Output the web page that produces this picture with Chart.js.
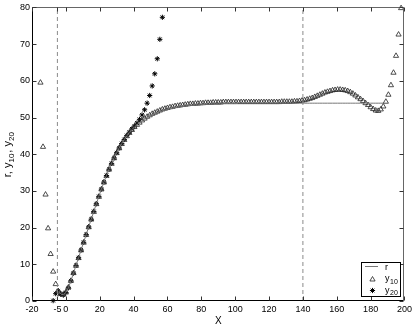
<!DOCTYPE html>
<html>
<head>
<meta charset="utf-8">
<script src="https://cdn.jsdelivr.net/npm/chart.js@4.4.1/dist/chart.umd.min.js"></script>
<style>
  html, body { margin: 0; padding: 0; background: #fff; }
  canvas { display: block; }
</style>
</head>
<body>
<canvas id="chart" width="415" height="326"></canvas>
<script>
// =====================
// Data
// =====================
const xs = [
    -15, -13.5, -12, -10.5, -9, -7.5, -6, -4.5, -3, -1.5,
    0, 1.5, 3, 4.5, 6, 7.5, 9, 10.5, 12, 13.5,
    15, 16.5, 18, 19.5, 21, 22.5, 24, 25.5, 27, 28.5,
    30, 31.5, 33, 34.5, 36, 37.5, 39, 40.5, 42, 43.5,
    45, 46.5, 48, 49.5, 51, 52.5, 54, 55.5, 57, 58.5,
    60, 61.5, 63, 64.5, 66, 67.5, 69, 70.5, 72, 73.5,
    75, 76.5, 78, 79.5, 81, 82.5, 84, 85.5, 87, 88.5,
    90, 91.5, 93, 94.5, 96, 97.5, 99, 100.5, 102, 103.5,
    105, 106.5, 108, 109.5, 111, 112.5, 114, 115.5, 117, 118.5,
    120, 121.5, 123, 124.5, 126, 127.5, 129, 130.5, 132, 133.5,
    135, 136.5, 138, 139.5, 141, 142.5, 144, 145.5, 147, 148.5,
    150, 151.5, 153, 154.5, 156, 157.5, 159, 160.5, 162, 163.5,
    165, 166.5, 168, 169.5, 171, 172.5, 174, 175.5, 177, 178.5,
    180, 181.5, 183, 184.5, 186, 187.5, 189, 190.5, 192, 193.5,
    195, 196.5, 198
];

// reference curve r
const rVals = [
    null, null, null, null, null, null, null, 2.6, 1.9, 1.7,
    2.3, 3.6, 5.5, 7.6, 9.7, 11.8, 13.9, 16.0, 18.1, 20.2,
    22.3, 24.4, 26.5, 28.5, 30.5, 32.4, 34.2, 35.9, 37.5, 39.0,
    40.4, 41.7, 42.9, 44.0, 45.0, 45.9, 46.7, 47.4, 48.0, 48.6,
    49.1, 49.6, 50.0, 50.4, 50.7, 51.0, 51.3, 51.6, 51.8, 52.0,
    52.2, 52.4, 52.5, 52.7, 52.8, 52.9, 53.0, 53.1, 53.2, 53.3,
    53.3, 53.4, 53.4, 53.5, 53.5, 53.6, 53.6, 53.6, 53.7, 53.7,
    53.7, 53.7, 53.8, 53.8, 53.8, 53.8, 53.8, 53.8, 53.9, 53.9,
    53.9, 53.9, 53.9, 53.9, 53.9, 53.9, 53.9, 53.9, 53.9, 53.9,
    53.9, 53.9, 53.9, 53.9, 53.9, 53.9, 53.9, 53.9, 53.9, 53.9,
    53.9, 53.9, 53.9, 53.9, 53.9, 53.9, 53.9, 53.9, 53.9, 53.9,
    53.9, 53.9, 53.9, 53.9, 53.9, 53.9, 53.9, 53.9, 53.9, 53.9,
    53.9, 53.9, 53.9, 53.9, 53.9, 53.9, 53.9, 53.9, 53.9, 53.9,
    53.9, 53.9, 53.9, 53.9, 53.9, 53.9, null, null, null, null,
    null, null, null
];

// y10 approximation
const y10Vals = [
    59.5, 42.0, 29.0, 19.8, 12.8, 8.0, 4.6, 2.7, 1.9, 1.8,
    2.4, 3.7, 5.5, 7.6, 9.6, 11.7, 13.8, 15.9, 18.0, 20.1,
    22.2, 24.3, 26.4, 28.4, 30.4, 32.3, 34.1, 35.8, 37.4, 38.9,
    40.3, 41.6, 42.8, 43.9, 44.9, 45.8, 46.6, 47.4, 48.0, 48.6,
    49.2, 49.7, 50.2, 50.6, 51.0, 51.3, 51.6, 51.9, 52.2, 52.4,
    52.6, 52.8, 52.9, 53.1, 53.2, 53.3, 53.4, 53.5, 53.6, 53.7,
    53.7, 53.8, 53.8, 53.9, 53.9, 54.0, 54.0, 54.0, 54.1, 54.1,
    54.1, 54.1, 54.2, 54.2, 54.2, 54.2, 54.2, 54.2, 54.2, 54.2,
    54.2, 54.2, 54.2, 54.2, 54.2, 54.2, 54.2, 54.2, 54.2, 54.2,
    54.2, 54.2, 54.2, 54.2, 54.2, 54.3, 54.3, 54.3, 54.3, 54.3,
    54.4, 54.4, 54.5, 54.6, 54.7, 54.9, 55.1, 55.3, 55.6, 55.9,
    56.2, 56.5, 56.8, 57.0, 57.2, 57.4, 57.5, 57.6, 57.6, 57.5,
    57.4, 57.2, 56.9, 56.5, 56.0, 55.5, 55.0, 54.5, 53.9, 53.4,
    52.8, 52.3, 51.9, 51.8, 52.2, 53.0, 54.3, 56.2, 58.8, 62.2,
    66.8, 72.6, 79.8
];

// y20 approximation (values off the axes are left out)
const y20Vals = [
    null, null, null, null, null, 0.1, 2.0, 2.7, 1.8, 1.6,
    2.3, 3.6, 5.5, 7.6, 9.7, 11.8, 13.9, 16.0, 18.1, 20.2,
    22.3, 24.4, 26.5, 28.5, 30.5, 32.4, 34.2, 35.9, 37.5, 39.0,
    40.4, 41.7, 42.9, 44.0, 45.1, 46.0, 46.9, 47.7, 48.5, 49.5,
    50.7, 52.1, 53.9, 56.0, 58.6, 61.9, 66.0, 71.3, 77.3
];

// dashed bounds of the fitting interval
const bounds = [-5, 140];

// axes
const xMin = -20, xMax = 200;
const yMin = 0, yMax = 80;
const xTicks = [-20, -5, 0, 20, 40, 60, 80, 100, 120, 140, 160, 180, 200];
const yTicks = [0, 10, 20, 30, 40, 50, 60, 70, 80];

const FONT = '"Liberation Sans", Arial, sans-serif';

function toPoints(vals) {
    const pts = [];
    vals.forEach((v, i) => {
        if (v !== null && v !== undefined) pts.push({ x: xs[i], y: v });
    });
    return pts;
}

const triStyle = { pointStyle: 'triangle', radius: 3, borderWidth: 0.8, rotation: 0 };
const starStyle = { pointStyle: 'star', radius: 2.6, borderWidth: 1, rotation: 0 };

// =====================
// Frame, inward ticks, titles and legend
// =====================
const framePlugin = {
    id: 'frame',
    afterDraw(chart) {
        const { ctx, chartArea: a, scales } = chart;
        const sx = scales.x, sy = scales.y;
        const L = Math.round(a.left) + 0.5, R = Math.round(a.right) - 0.5;
        const T = Math.round(a.top) + 0.5, B = Math.round(a.bottom) - 0.5;
        ctx.save();

        // box
        ctx.lineWidth = 1;
        ctx.strokeStyle = '#666';
        ctx.beginPath();
        ctx.moveTo(L, T); ctx.lineTo(R, T); ctx.lineTo(R, B);
        ctx.stroke();
        ctx.strokeStyle = '#000';
        ctx.beginPath();
        ctx.moveTo(L, T); ctx.lineTo(L, B); ctx.lineTo(R, B);
        ctx.stroke();

        // inward tick marks on all four sides
        ctx.strokeStyle = '#333';
        ctx.beginPath();
        sx.ticks.forEach(t => {
            const px = Math.round(sx.getPixelForValue(t.value)) + 0.5;
            ctx.moveTo(px, B); ctx.lineTo(px, B - 4);
            ctx.moveTo(px, T); ctx.lineTo(px, T + 4);
        });
        sy.ticks.forEach(t => {
            const py = Math.round(sy.getPixelForValue(t.value)) + 0.5;
            ctx.moveTo(L, py); ctx.lineTo(L + 4, py);
            ctx.moveTo(R, py); ctx.lineTo(R - 4, py);
        });
        ctx.stroke();

        ctx.fillStyle = '#000';
        ctx.textBaseline = 'alphabetic';

        // x title
        ctx.font = '10px ' + FONT;
        ctx.textAlign = 'center';
        ctx.fillText('X', (a.left + a.right) / 2, 324);

        // y title with subscripts
        const parts = [['r, y', false], ['10', true], [', y', false], ['20', true]];
        const widthOf = p => { ctx.font = (p[1] ? '8px ' : '11px ') + FONT; return ctx.measureText(p[0]).width + (p[1] ? 1 : 0); };
        const total = parts.reduce((s, p) => s + widthOf(p), 0);
        ctx.save();
        ctx.translate(11, (a.top + a.bottom) / 2);
        ctx.rotate(-Math.PI / 2);
        ctx.textAlign = 'left';
        let cx = -total / 2;
        parts.forEach(p => {
            const w = widthOf(p);
            ctx.fillText(p[0], cx, p[1] ? 2.5 : 0);
            cx += w;
        });
        ctx.restore();

        // legend box
        const bx = 361.5, by = 262.5, bw = 39, bh = 34;
        ctx.fillStyle = '#fff';
        ctx.fillRect(bx, by, bw, bh);
        ctx.strokeStyle = '#000';
        ctx.lineWidth = 1;
        ctx.strokeRect(bx, by, bw, bh);

        ctx.strokeStyle = '#777';
        ctx.beginPath();
        ctx.moveTo(365, 266.5); ctx.lineTo(378, 266.5);
        ctx.stroke();

        ctx.strokeStyle = '#222';
        ctx.fillStyle = 'rgba(0,0,0,0)';
        ctx.lineWidth = triStyle.borderWidth;
        Chart.helpers.drawPoint(ctx, triStyle, 372.5, 279.5);
        ctx.strokeStyle = '#000';
        ctx.lineWidth = starStyle.borderWidth;
        Chart.helpers.drawPoint(ctx, starStyle, 372.5, 290.5);

        ctx.fillStyle = '#000';
        ctx.textAlign = 'left';
        ctx.font = '9px ' + FONT;
        ctx.fillText('r', 385, 269.5);
        ctx.fillText('y', 385, 281);
        ctx.fillText('y', 385, 292.5);
        ctx.font = '7px ' + FONT;
        ctx.fillText('10', 390, 283.5);
        ctx.fillText('20', 390, 295);

        ctx.restore();
    }
};

// =====================
// Chart
// =====================
const datasets = bounds.map(b => ({
    data: [{ x: b, y: yMin }, { x: b, y: yMax }],
    showLine: true,
    borderColor: '#8a8a8a',
    borderWidth: 1,
    borderDash: [4, 3],
    pointRadius: 0
}));

datasets.push({
    data: toPoints(rVals),
    showLine: true,
    borderColor: '#777',
    borderWidth: 1,
    pointRadius: 0
});

datasets.push({
    data: toPoints(y10Vals),
    showLine: false,
    pointStyle: triStyle.pointStyle,
    pointRadius: triStyle.radius,
    pointBorderWidth: triStyle.borderWidth,
    pointBorderColor: '#222',
    pointBackgroundColor: 'rgba(0,0,0,0)',
    clip: false
});

datasets.push({
    data: toPoints(y20Vals),
    showLine: false,
    pointStyle: starStyle.pointStyle,
    pointRadius: starStyle.radius,
    pointBorderWidth: starStyle.borderWidth,
    pointBorderColor: '#000',
    pointBackgroundColor: '#000',
    clip: false
});

const tickFont = { family: FONT, size: 9 };

new Chart(document.getElementById('chart').getContext('2d'), {
    type: 'scatter',
    data: { datasets },
    options: {
        responsive: false,
        animation: false,
        devicePixelRatio: 1,
        layout: { padding: { top: 7, right: 10, left: 0, bottom: 0 } },
        plugins: { legend: { display: false }, tooltip: { enabled: false } },
        events: [],
        scales: {
            x: {
                type: 'linear',
                min: xMin,
                max: xMax,
                afterBuildTicks: s => { s.ticks = xTicks.map(v => ({ value: v })); },
                afterFit: s => { s.height = 25; },
                grid: { display: false, drawTicks: false },
                border: { display: false },
                ticks: { color: '#000', font: tickFont, padding: 3, maxRotation: 0, autoSkip: false }
            },
            y: {
                type: 'linear',
                min: yMin,
                max: yMax,
                afterBuildTicks: s => { s.ticks = yTicks.map(v => ({ value: v })); },
                afterFit: s => { s.width = 32; },
                grid: { display: false, drawTicks: false },
                border: { display: false },
                ticks: { color: '#000', font: tickFont, padding: 2 }
            }
        }
    },
    plugins: [framePlugin]
});
</script>
</body>
</html>
